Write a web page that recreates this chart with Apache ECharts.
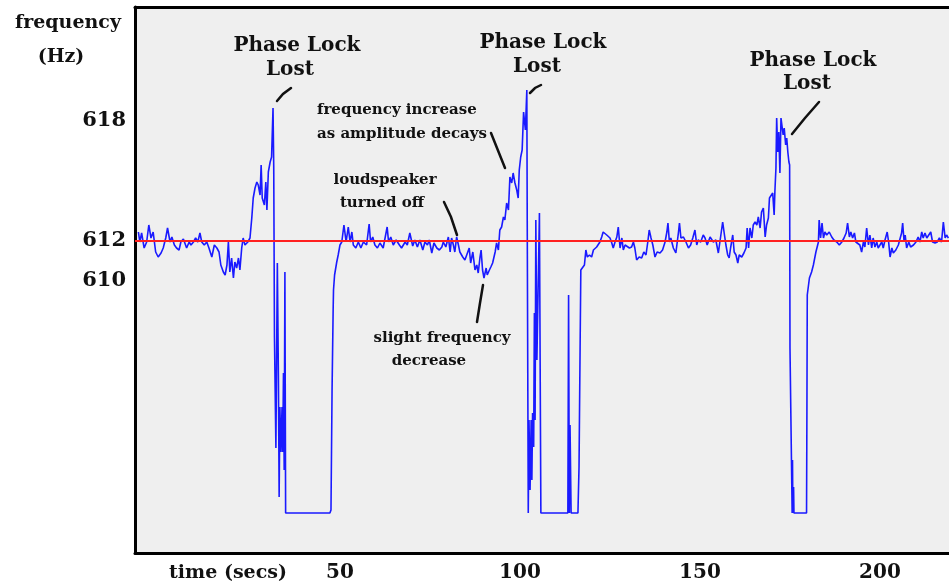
<!DOCTYPE html>
<html>
<head>
<meta charset="utf-8">
<script src="https://cdn.jsdelivr.net/npm/echarts@6/dist/echarts.min.js"></script>
<style>
html,body{margin:0;padding:0;background:#fff;}
#chart{width:949px;height:585px;}
</style>
</head>
<body>
<div id="chart"></div>
<script>
// time (s)
const times = [-6.0,-5.6,-5.1,-4.4,-3.7,-3.1,-2.5,-1.9,-1.2,-0.5,0.3,0.9,1.6,2.1,2.8,3.3,4.0,4.6,5.3,5.8,6.5,6.9,7.4,8.1,8.6,9.3,9.9,10.5,11.1,11.6,12.3,13.0,13.6,14.4,15.1,15.8,16.4,16.9,17.6,18.1,18.6,19.0,19.4,19.9,20.4,20.8,21.3,21.8,22.2,22.7,23.1,23.6,24.4,25.0,25.5,25.9,26.4,26.9,27.3,27.8,28.1,28.4,29.0,29.4,29.7,30.1,30.6,31.0,31.4,31.6,31.8,32.2,32.6,32.9,33.1,33.3,33.6,33.9,34.1,34.3,34.5,34.7,34.9,47.2,47.5,47.8,48.1,48.2,48.5,49.1,49.5,50.0,50.5,51.1,51.7,52.3,52.8,53.3,53.7,54.4,55.1,55.8,56.5,57.4,58.1,58.5,59.1,59.7,60.4,61.1,62.0,63.1,63.5,64.1,64.8,65.6,66.5,67.1,68.1,68.7,69.4,70.2,70.8,71.5,72.2,73.0,73.6,74.3,74.8,75.5,76.1,76.9,77.6,78.3,78.7,79.4,80.1,80.6,81.0,81.5,81.9,82.4,82.9,83.3,84.1,84.7,85.4,85.9,86.3,86.9,87.5,88.0,88.4,88.9,89.2,89.6,90.0,90.6,90.9,91.5,91.9,92.4,93.1,93.5,94.0,94.4,94.9,95.4,95.8,96.3,96.8,97.2,97.7,98.1,98.6,99.1,99.5,99.8,100.2,100.6,101.0,101.5,101.9,102.0,102.3,102.5,102.8,103.1,103.3,103.5,103.8,104.0,104.2,104.4,104.7,105.4,105.6,105.8,113.3,113.5,113.7,113.9,114.2,116.1,116.4,116.7,116.9,117.4,117.9,118.3,118.7,119.3,119.9,120.4,120.8,121.3,121.8,122.2,122.7,123.1,123.6,124.1,124.5,125.0,125.5,125.9,126.4,126.9,127.3,127.8,128.3,128.7,129.2,129.6,130.4,131.0,131.5,131.9,132.4,133.1,133.8,134.4,135.0,135.5,135.9,136.4,136.9,137.5,138.1,138.9,139.6,140.3,140.8,141.1,141.5,141.9,142.6,143.3,144.0,144.3,144.7,145.4,146.1,146.8,147.4,148.0,148.6,149.1,149.5,150.2,150.9,151.4,152.0,152.8,153.7,154.4,155.1,155.8,156.3,156.8,157.2,157.7,158.1,158.5,159.1,159.5,160.0,160.5,160.9,161.6,162.2,162.8,163.1,163.5,163.9,164.4,164.8,165.3,165.8,166.2,166.7,167.1,167.6,168.1,168.5,169.0,169.3,169.7,170.2,170.6,170.8,171.1,171.3,171.6,171.9,172.2,172.5,172.9,173.1,173.4,173.8,174.1,174.4,174.7,174.9,175.0,175.5,175.6,175.7,175.8,176.0,176.1,179.6,179.7,179.8,180.4,181.0,181.5,182.2,182.9,183.1,183.5,183.9,184.3,184.7,185.2,185.9,186.6,187.2,188.0,188.7,189.4,190.0,190.6,191.0,191.5,191.9,192.4,192.9,193.3,193.8,194.4,194.9,195.4,195.8,196.3,196.8,197.2,197.7,198.1,198.6,199.1,199.5,200.0,200.5,200.9,201.4,202.0,202.4,202.8,203.3,203.7,204.4,205.1,205.6,206.0,206.3,206.7,207.0,207.4,208.0,208.5,209.3,210.0,210.6,211.1,211.6,212.0,212.5,213.0,213.4,214.1,214.6,215.3,215.9,216.5,217.1,217.6,218.1,218.5,219.0];
// frequency (Hz)
const freqs = [612.45,611.95,612.4,611.65,611.95,612.8,612.15,612.45,611.45,611.2,611.4,611.65,612.15,612.65,611.95,612.2,611.8,611.65,611.55,611.95,612.1,612.15,611.65,611.95,611.8,611.95,612.15,611.95,612.4,611.95,611.8,611.95,611.65,611.2,611.8,611.65,611.45,610.8,610.45,610.3,610.8,611.95,610.45,611.15,610.15,610.95,610.65,611.15,610.55,611.65,612.15,611.8,611.95,612.15,613.15,614.15,614.65,614.95,614.8,614.3,615.8,614.15,613.8,614.95,613.55,615.45,615.95,616.2,618.65,615.65,607.2,601.65,610.9,605.05,599.2,603.7,601.45,603.7,601.45,605.4,600.55,610.45,598.4,598.4,598.55,604.55,608.55,609.55,610.3,610.95,611.3,611.8,611.95,612.8,611.95,612.7,611.95,612.45,611.8,611.65,611.95,611.65,611.95,611.8,612.85,611.95,612.2,611.8,611.65,611.9,611.65,612.7,611.95,612.2,611.8,612.05,611.8,611.65,611.95,611.8,612.4,611.75,612.05,611.7,612.05,611.55,611.95,611.8,612.05,611.4,611.9,611.65,611.55,611.7,611.95,611.7,612.2,611.45,612.15,611.8,611.45,612.2,611.8,611.45,611.2,611.05,611.4,611.65,610.9,611.45,610.55,610.8,610.4,611.2,611.55,610.55,610.15,610.65,610.3,610.55,610.7,610.9,611.45,611.9,611.55,612.55,612.7,613.2,613.05,613.9,613.55,615.2,614.9,615.4,614.9,614.55,614.15,615.55,616.2,616.55,618.45,617.55,619.55,613.7,598.4,603.05,599.55,603.05,600.05,603.4,601.7,608.4,603.05,613.05,606.05,613.4,605.9,598.4,598.4,609.3,598.4,602.8,598.4,598.4,600.7,606.7,610.55,610.45,610.8,611.55,611.2,611.3,611.2,611.55,611.45,611.7,611.65,611.95,612.2,612.45,612.55,612.3,612.4,612.15,611.9,611.65,611.95,612.2,612.7,611.65,612.15,611.55,611.8,611.9,611.65,611.7,611.95,611.65,611.05,611.2,611.15,611.45,611.3,611.95,612.55,612.15,611.8,611.2,611.45,611.4,611.55,611.95,612.45,612.9,611.95,612.15,611.65,611.4,612.4,612.9,612.15,612.2,611.95,611.65,611.8,612.15,612.55,611.8,612.05,611.95,612.3,612.15,611.8,612.2,611.95,612.05,611.4,612.3,612.95,612.3,611.8,611.3,611.15,611.65,612.3,611.45,611.3,610.9,611.3,611.2,611.4,611.65,612.65,611.65,612.65,612.15,612.8,612.95,612.8,613.2,612.65,613.45,613.65,612.2,612.8,613.15,614.15,614.05,614.4,613.3,614.45,615.65,618.15,616.45,617.45,615.4,618.15,618.15,617.3,617.65,616.8,617.15,616.45,615.95,615.8,606.65,606.65,598.4,601.05,598.4,599.7,598.4,598.4,603.4,609.3,610.15,610.45,610.8,611.45,611.95,613.05,612.15,612.9,612.15,612.45,612.3,612.45,612.2,612.05,611.95,611.8,611.95,612.15,612.4,612.9,612.2,612.45,612.15,612.4,611.95,611.9,611.8,611.45,611.95,611.7,612.65,611.8,612.3,611.65,612.15,611.7,611.95,611.65,611.8,611.95,611.65,612.05,612.45,611.95,611.2,611.65,611.4,611.55,611.8,611.7,612.4,612.9,611.95,612.3,611.65,611.95,611.7,611.8,611.95,612.2,611.95,612.45,612.15,612.4,612.15,612.2,612.45,611.95,611.9,611.95,612.15,611.95,612.95,612.15,612.3,612.15];
const referenceFreq = 612;
const xTickValues = [50, 100, 150, 200];
const yTickValues = [610, 612, 618];

const SERIF = '"DejaVu Serif", serif';
const series = times.map((t, i) => [t, freqs[i]]);

function txt(text, x, y, size, align) {
  return { type: 'text', x: x, y: y, silent: true,
    style: { text: text, font: 'bold ' + size + 'px ' + SERIF, fill: '#111',
      textAlign: align || 'center', textVerticalAlign: 'middle' } };
}
function ptr(points) {
  return { type: 'polyline', silent: true, shape: { points: points },
    style: { stroke: '#111', lineWidth: 2.5, fill: null, lineCap: 'round' } };
}

const chart = echarts.init(document.getElementById('chart'), null, { renderer: 'canvas' });
chart.setOption({
  animation: false,
  backgroundColor: '#ffffff',
  grid: { left: 135, right: 0, top: 7, bottom: 32, show: true, backgroundColor: '#efefef', borderWidth: 0 },
  xAxis: [{
    type: 'value', min: -6.94, max: 219.17,
    axisLine: { show: true, onZero: false, lineStyle: { color: '#000', width: 3 } },
    axisTick: { show: false },
    splitLine: { show: false },
    axisLabel: { customValues: xTickValues, margin: 10, color: '#111',
      fontFamily: SERIF, fontWeight: 'bold', fontSize: 20 }
  }, {
    type: 'value', position: 'top', min: -6.94, max: 219.17,
    axisLine: { show: true, onZero: false, lineStyle: { color: '#000', width: 3 } },
    axisTick: { show: false }, axisLabel: { show: false }, splitLine: { show: false }
  }],
  yAxis: {
    type: 'value', min: 596.4, max: 623.7, position: 'left',
    axisLine: { show: true, onZero: false, lineStyle: { color: '#000', width: 3 } },
    axisTick: { show: false },
    splitLine: { show: false },
    axisLabel: { customValues: yTickValues, margin: 9, color: '#111',
      fontFamily: SERIF, fontWeight: 'bold', fontSize: 21 }
  },
  series: [{
    type: 'line', data: series, showSymbol: false, sampling: null,
    lineStyle: { color: '#1a1aff', width: 1.6 },
    silent: true,
    markLine: {
      silent: true, symbol: 'none', label: { show: false },
      lineStyle: { color: '#ff2020', width: 2, type: 'solid' },
      data: [{ yAxis: referenceFreq }]
    },
    z: 3
  }],
  graphic: [
    txt('frequency', 68, 23, 19),
    txt('(Hz)', 61, 57, 19),
    txt('time (secs)', 228, 573, 19),
    txt('Phase Lock', 297, 46, 20),
    txt('Lost', 290, 70, 20),
    txt('Phase Lock', 543, 43, 20),
    txt('Lost', 537, 67, 20),
    txt('Phase Lock', 813, 61, 20),
    txt('Lost', 807, 84, 20),
    txt('frequency increase', 317, 110, 15, 'left'),
    txt('as amplitude decays', 317, 134, 15, 'left'),
    txt('loudspeaker', 385, 180, 15),
    txt('turned off', 382, 203, 15),
    txt('slight frequency', 442, 338, 15),
    txt('decrease', 429, 361, 15),
    ptr([[277, 101], [283, 94], [291, 88]]),
    ptr([[530, 93], [535, 88], [541, 85]]),
    ptr([[792, 134], [805, 118], [819, 102]]),
    ptr([[491, 133], [497, 148], [505, 168]]),
    ptr([[444, 202], [451, 217], [457, 235]]),
    ptr([[483, 285], [480, 303], [477, 322]])
  ]
});
</script>
</body>
</html>
